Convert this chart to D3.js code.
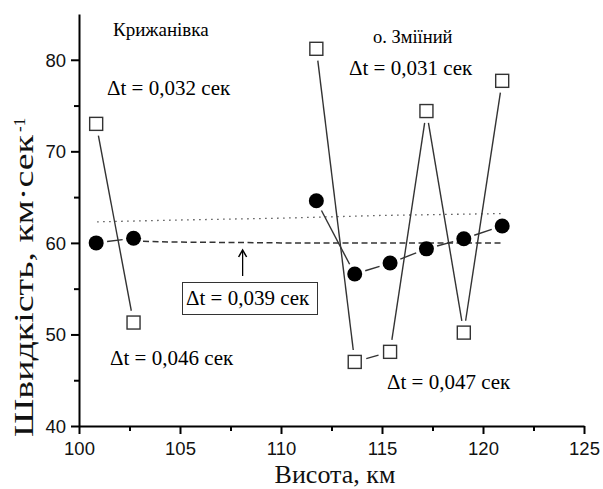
<!DOCTYPE html>
<html lang="uk">
<script src="https://d3js.org/d3.v7.min.js"></script>
<style>
    body {margin: 0; background: white;}
    .axis path, .axis line {stroke: black; stroke-width: 2;}
    .axis text {font-family: "Liberation Sans", Arial, sans-serif; font-size: 18.5px; fill: #111;}
    .note {font-family: "Liberation Serif", "Times New Roman", serif; fill: black;}
    .link {stroke: #333; stroke-width: 1.4;}
</style>
<body>
    <svg width="603" height="489"></svg>
</body>
<script>
    // heights (km) shared by both series
    var heights = [100.85, 102.7, 111.75, 113.65, 115.4, 117.2, 119.05, 120.95];
    // filled circles
    var speedCircle = [60.0, 60.5, 64.6, 56.6, 57.8, 59.35, 60.45, 61.85];
    // open squares
    var speedSquare = [73.0, 51.3, 81.2, 47.0, 48.1, 74.4, 50.2, 77.7];
    // group of each point: 0 = Крижанівка, 1 = о. Зміїний
    var group = [0, 0, 1, 1, 1, 1, 1, 1];

    // reference lines
    var dottedX = [100.9, 105, 110, 115, 120.9];
    var dottedY = [62.3, 62.5, 62.7, 63.0, 63.2];
    var dashedX = [102.7, 104.4, 110, 120.95];
    var dashedY = [60.2, 60.1, 60.0, 60.0];

    var xTicks = [100, 105, 110, 115, 120, 125];
    var yTicks = [40, 50, 60, 70, 80];

    var notes = ["Крижанівка", "Δt = 0,032 сек", "о. Зміїний", "Δt = 0,031 сек",
                 "Δt = 0,046 сек", "Δt = 0,047 сек"];
    var boxNote = "Δt = 0,039 сек";
    var arrowAt = 108.1;

    var svg = d3.select("svg");

    var x = d3.scaleLinear().domain([100, 125]).range([79, 584]);
    var y = d3.scaleLinear().domain([40, 85]).range([426, 14]);

    // axes
    svg.append("g").attr("class", "axis xa").attr("transform", "translate(0,426)")
        .call(d3.axisBottom(x).tickValues(xTicks).tickSize(8).tickSizeOuter(0));
    svg.append("g").attr("class", "axis").attr("transform", "translate(0,426)")
        .call(d3.axisBottom(x).tickValues(d3.range(102.5, 125, 5)).tickSize(5).tickFormat(""))
        .select(".domain").remove();
    svg.append("g").attr("class", "axis ya").attr("transform", "translate(79,0)")
        .call(d3.axisLeft(y).tickValues(yTicks).tickSize(8).tickSizeOuter(0).tickPadding(5));
    svg.append("g").attr("class", "axis").attr("transform", "translate(79,0)")
        .call(d3.axisLeft(y).tickValues(d3.range(45, 85, 10)).tickSize(5).tickFormat(""))
        .select(".domain").remove();
    svg.selectAll(".xa text").attr("dy", null).attr("y", 29);
    svg.selectAll(".ya text").attr("dy", "0.35em");

    // axis titles
    svg.append("text").attr("class", "note").attr("x", 335).attr("y", 483)
        .attr("text-anchor", "middle").style("font-size", "26px").style("fill", "#111").text("Висота, км");
    var yl = svg.append("g").attr("transform", "translate(33,437) rotate(-90)");
    yl.append("text").attr("class", "note").style("font-size", "27px").style("fill", "#111")
        .attr("textLength", 302).attr("lengthAdjust", "spacingAndGlyphs").text("Швидкість, км·сек");
    yl.append("text").attr("class", "note").attr("x", 305).attr("y", -8).style("font-size", "17px")
        .style("fill", "#111").text("-1");

    // reference lines
    var ref = d3.line().x(function(d){ return x(d[0]); }).y(function(d){ return y(d[1]); });
    svg.append("path").datum(d3.zip(dottedX, dottedY)).attr("d", ref)
        .attr("fill", "none").attr("stroke", "#555").attr("stroke-width", 1.3).attr("stroke-dasharray", "1.5,4.5");
    svg.append("path").datum(d3.zip(dashedX, dashedY)).attr("d", ref)
        .attr("fill", "none").attr("stroke", "#333").attr("stroke-width", 1.5).attr("stroke-dasharray", "6,3.5");

    // connecting segments with gaps at the markers
    function segments(vals, gap) {
        var out = [];
        for (var i = 0; i < vals.length - 1; i++) {
            if (group[i] !== group[i + 1]) continue;
            var x1 = x(heights[i]), y1 = y(vals[i]), x2 = x(heights[i + 1]), y2 = y(vals[i + 1]);
            var len = Math.hypot(x2 - x1, y2 - y1), ux = (x2 - x1) / len, uy = (y2 - y1) / len;
            out.push({x1: x1 + ux * gap, y1: y1 + uy * gap, x2: x2 - ux * gap, y2: y2 - uy * gap});
        }
        return out;
    }
    svg.append("g").selectAll("line").data(segments(speedSquare, 12).concat(segments(speedCircle, 11)))
        .enter().append("line").attr("class", "link")
        .attr("x1", function(d){ return d.x1; }).attr("y1", function(d){ return d.y1; })
        .attr("x2", function(d){ return d.x2; }).attr("y2", function(d){ return d.y2; });

    // markers
    svg.append("g").selectAll("rect").data(speedSquare).enter().append("rect")
        .attr("x", function(d, i){ return x(heights[i]) - 6.5; })
        .attr("y", function(d){ return y(d) - 6.5; })
        .attr("width", 13).attr("height", 13)
        .attr("fill", "white").attr("stroke", "#333").attr("stroke-width", 1.4);
    svg.append("g").selectAll("circle").data(speedCircle).enter().append("circle")
        .attr("cx", function(d, i){ return x(heights[i]); })
        .attr("cy", function(d){ return y(d); })
        .attr("r", 7.5).attr("fill", "black");

    // annotations
    var notePos = [[113, 36, 19], [107, 95, 21], [373, 43, 18.5], [349, 75, 21], [110, 365, 21], [387, 389, 21]];
    svg.append("g").selectAll("text").data(notes).enter().append("text").attr("class", "note")
        .attr("x", function(d, i){ return notePos[i][0]; })
        .attr("y", function(d, i){ return notePos[i][1]; })
        .style("font-size", function(d, i){ return notePos[i][2] + "px"; })
        .text(function(d){ return d; });

    // boxed label with arrow
    svg.append("rect").attr("x", 182.5).attr("y", 282.5).attr("width", 135).attr("height", 32)
        .attr("fill", "white").attr("stroke", "#333").attr("stroke-width", 1);
    svg.append("text").attr("class", "note").attr("x", 186).attr("y", 305).style("font-size", "21px").text(boxNote);
    svg.append("line").attr("x1", x(arrowAt)).attr("x2", x(arrowAt)).attr("y1", 276).attr("y2", 251)
        .attr("stroke", "black").attr("stroke-width", 1.3);
    svg.append("path").attr("d", "M" + (x(arrowAt) - 4) + ",257L" + x(arrowAt) + ",250L" + (x(arrowAt) + 4) + ",257")
        .attr("fill", "none").attr("stroke", "black").attr("stroke-width", 1.5);
</script>
</html>
